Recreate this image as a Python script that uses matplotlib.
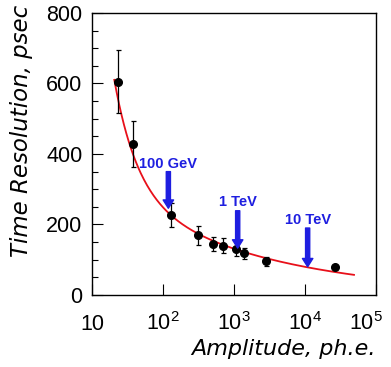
import numpy as np
import matplotlib
matplotlib.use('Agg')
import matplotlib.pyplot as plt
from matplotlib.ticker import LogLocator, MultipleLocator, FixedLocator, FixedFormatter
from matplotlib.transforms import ScaledTranslation

plt.rcParams['font.family'] = ['Liberation Sans', 'DejaVu Sans']
plt.rcParams['mathtext.fontset'] = 'custom'
plt.rcParams['mathtext.rm'] = 'Liberation Sans'
plt.rcParams['mathtext.it'] = 'Liberation Sans:italic'

# measured points
amplitude = [23, 38, 128, 308, 512, 693, 1057, 1397, 2823, 26500]
resolution = [605, 428, 227, 170, 144, 140, 130, 118, 96, 78]
res_err = [90, 66, 35, 27, 20, 22, 18, 16, 13, 5]

# fit curve: t = A / x**r + B / x**q, drawn between these amplitudes
fit_A, fit_r = 17770., 1.33
fit_B, fit_q = 552., 0.21
fit_range = [20.6, 49000]

# energy markers
energy_labels = ['100 GeV', '1 TeV', '10 TeV']
energy_amp = [119, 1127, 10900]
arrow_top = [350, 239, 190]
arrow_tip = [246, 133, 80]
label_y = [373, 263, 213]

xtick_vals = [10, 100, 1000, 10000, 100000]
xtick_labels = ['10', r'$10^2$', r'$10^3$', r'$10^4$', r'$10^5$']

blue = '#1e1ee0'

fig = plt.figure(figsize=(3.91, 3.67), dpi=100)
ax = fig.add_axes([0.2353, 0.1962, 0.7263, 0.7684])

xf = np.logspace(np.log10(fit_range[0]), np.log10(fit_range[1]), 300)
ax.plot(xf, fit_A / xf**fit_r + fit_B / xf**fit_q, color='#e8101a', lw=1.3, zorder=2)

ax.errorbar(amplitude, resolution, yerr=res_err, fmt='o', color='black',
            ms=5.5, elinewidth=0.9, capsize=1.8, capthick=0.9, zorder=3)

for lab, xa, yt, yb, yl in zip(energy_labels, energy_amp, arrow_top, arrow_tip, label_y):
    ax.annotate('', xy=(xa, yb), xytext=(xa, yt),
                arrowprops=dict(width=3, headwidth=7.5, headlength=6,
                                color=blue, shrink=0), zorder=4)
    ax.text(xa, yl, lab, color=blue, fontsize=10.5, fontweight='bold',
            ha='center', va='center', zorder=4)

ax.set_xscale('log')
ax.set_xlim(10, 100000)
ax.set_ylim(0, 800)

ax.xaxis.set_major_locator(FixedLocator(xtick_vals))
ax.xaxis.set_major_formatter(FixedFormatter(xtick_labels))
ax.xaxis.set_minor_locator(LogLocator(base=10, subs=np.arange(2, 10)))
ax.xaxis.set_minor_formatter(plt.NullFormatter())
ax.yaxis.set_major_locator(MultipleLocator(200))
ax.yaxis.set_minor_locator(MultipleLocator(50))

ax.tick_params(which='both', direction='in', top=False, right=False, labelsize=15.5)
ax.tick_params(which='major', length=8, width=0.8)
ax.tick_params(which='minor', length=4, width=0.8)
ax.tick_params(axis='x', pad=25)
ax.tick_params(axis='y', pad=7)
for t in ax.get_xticklabels():
    t.set_va('baseline')
# pull the last label in so it stays on the canvas
last = ax.get_xticklabels()[-1]
last.set_transform(last.get_transform() + ScaledTranslation(-7 / 72, 0, fig.dpi_scale_trans))

for s in ax.spines.values():
    s.set_linewidth(1.0)

ax.set_xlabel('Amplitude, ph.e.', fontsize=16, style='italic', loc='right',
              family='DejaVu Sans', labelpad=3)
ax.set_ylabel('Time Resolution, psec', fontsize=16.5, style='italic',
              family='DejaVu Sans')
ax.yaxis.set_label_coords(-0.208, 1.028)
ax.yaxis.label.set_ha('right')

fig.savefig('out.png', dpi=100)
